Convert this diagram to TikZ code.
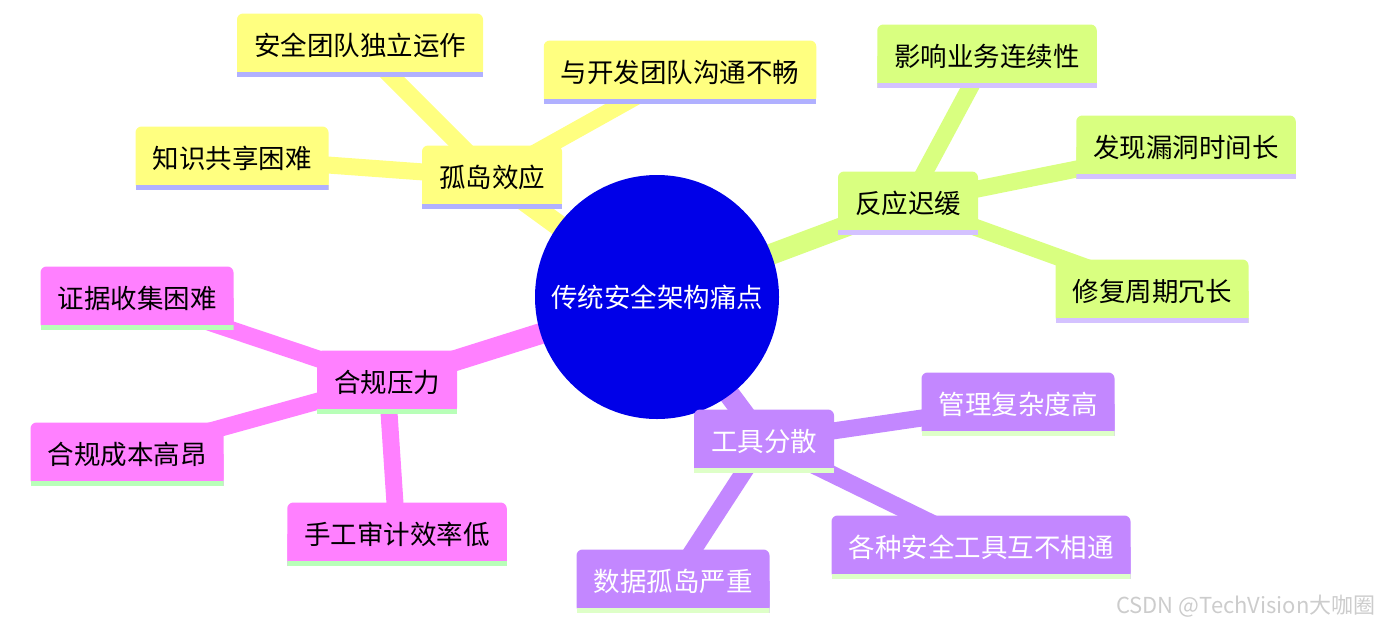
\documentclass[tikz,border=0pt]{standalone}
\usepackage{fontspec}
\setmainfont{Noto Sans CJK SC}
\usetikzlibrary{backgrounds}

\definecolor{rootblue}{HTML}{0000E8}
\definecolor{secyel}{HTML}{FFFF80}
\definecolor{baryel}{HTML}{B0B0FF}
\definecolor{secgrn}{HTML}{D9FF80}
\definecolor{bargrn}{HTML}{D4C2FF}
\definecolor{secpnk}{HTML}{FF80FF}
\definecolor{barpnk}{HTML}{B8FFB8}
\definecolor{secpur}{HTML}{C387FF}
\definecolor{barpur}{HTML}{DEFFC8}

\tikzset{
  box/.style 2 args={minimum height=63pt, inner xsep=17pt, inner ysep=0pt,
    path picture={
      \fill[#1, rounded corners=6pt] (path picture bounding box.south west) rectangle (path picture bounding box.north east);
      \fill[#1] (path picture bounding box.south west) rectangle (path picture bounding box.east);
      \fill[#2] (path picture bounding box.south west) rectangle ([yshift=5pt]path picture bounding box.south east);
    }},
  rootline/.style={line width=21pt},
  leafline/.style={line width=17pt}
}

\begin{document}
\begin{tikzpicture}[x=1pt,y=-1pt,every node/.style={font=\fontsize{26.5}{30}\selectfont}]
  \useasboundingbox (0,0) rectangle (1382,630);

  % Centro
  \node[circle, fill=rootblue, text=white, minimum size=244pt, inner sep=0pt] (root) at (657,297) {传统安全架构痛点};

  % Rama amarilla
  \node[box={secyel}{baryel}] (y0) at (492,177) {孤岛效应};
  \node[box={secyel}{baryel}] (y1) at (360,45) {安全团队独立运作};
  \node[box={secyel}{baryel}] (y2) at (680,72) {与开发团队沟通不畅};
  \node[box={secyel}{baryel}] (y3) at (232,158) {知识共享困难};

  % Rama verde
  \node[box={secgrn}{bargrn}] (g0) at (908,203) {反应迟缓};
  \node[box={secgrn}{bargrn}] (g1) at (987,56) {影响业务连续性};
  \node[box={secgrn}{bargrn}] (g2) at (1186,147) {发现漏洞时间长};
  \node[box={secgrn}{bargrn}] (g3) at (1152,291) {修复周期冗长};

  % Rama rosa
  \node[box={secpnk}{barpnk}] (p0) at (387,382) {合规压力};
  \node[box={secpnk}{barpnk}] (p1) at (137,298) {证据收集困难};
  \node[box={secpnk}{barpnk}] (p2) at (127,454) {合规成本高昂};
  \node[box={secpnk}{barpnk}] (p3) at (397,534) {手工审计效率低};

  % Rama morada
  \node[box={secpur}{barpur}, text=white] (m0) at (764,441) {工具分散};
  \node[box={secpur}{barpur}, text=white] (m1) at (1018,404) {管理复杂度高};
  \node[box={secpur}{barpur}, text=white] (m2) at (981,547) {各种安全工具互不相通};
  \node[box={secpur}{barpur}, text=white] (m3) at (673,581) {数据孤岛严重};

  % Aristas (de centro a centro, detrás de los nodos)
  \begin{scope}[on background layer]
    \draw[rootline, secyel] (root.center) -- (y0.center);
    \draw[rootline, secgrn] (root.center) -- (g0.center);
    \draw[rootline, secpnk] (root.center) -- (p0.center);
    \draw[rootline, secpur] (root.center) -- (m0.center);
    \foreach \to in {y1, y2, y3}
      \draw[leafline, secyel] (y0.center) -- (\to.center);
    \foreach \to in {g1, g2, g3}
      \draw[leafline, secgrn] (g0.center) -- (\to.center);
    \foreach \to in {p1, p2, p3}
      \draw[leafline, secpnk] (p0.center) -- (\to.center);
    \foreach \to in {m1, m2, m3}
      \draw[leafline, secpur] (m0.center) -- (\to.center);
  \end{scope}

  \node[text=black!20, font=\fontsize{22}{26}\selectfont, anchor=east] (mark) at (1379,606) {CSDN @TechVision大咖圈};
\end{tikzpicture}
\end{document}
